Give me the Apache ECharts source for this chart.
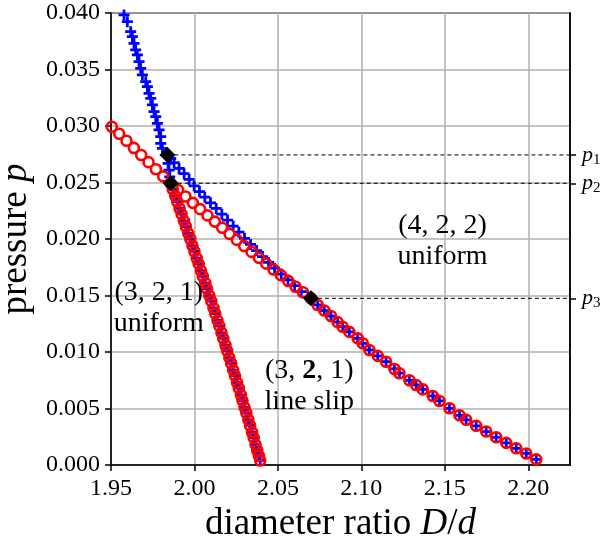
<html>
<head>
<meta charset="utf-8">
<style>
  html, body { margin: 0; padding: 0; background: #fff; }
  #chart { width: 608px; height: 547px; }
</style>
</head>
<body>
<div id="chart"></div>
<script src="https://cdn.jsdelivr.net/npm/echarts@6/dist/echarts.min.js"></script>
<script>
// ---- data ----
var xTicks = [1.95, 2.00, 2.05, 2.10, 2.15, 2.20];
var xMin = 1.95, xMax = 2.225;

// blue '+' branch, upper part down to the first diamond
var blueTop = [
  [1.9578, 0.03983], [1.9598, 0.03923], [1.9618, 0.03835], [1.9628, 0.03791],
  [1.9638, 0.03732], [1.9648, 0.03673], [1.9658, 0.03629], [1.9668, 0.03570],
  [1.9678, 0.03511], [1.9688, 0.03452], [1.9708, 0.03392], [1.9718, 0.03348],
  [1.9728, 0.03289], [1.9738, 0.03245], [1.9748, 0.03186], [1.9758, 0.03127],
  [1.9768, 0.03083], [1.9778, 0.03024], [1.9788, 0.02965], [1.9798, 0.02906],
  [1.9798, 0.02847], [1.9808, 0.02803], [1.9838, 0.02744]
];
// blue '+' from first diamond to third diamond
var blueMiddle = [
  [1.9858, 0.02712], [1.9878, 0.02675], [1.9908, 0.02625], [1.9938, 0.02578],
  [1.9968, 0.02527], [1.9998, 0.02470], [2.0030, 0.02420], [2.0062, 0.02370],
  [2.0096, 0.02320], [2.0130, 0.02270], [2.0164, 0.02220], [2.0198, 0.02168],
  [2.0232, 0.02115], [2.0266, 0.02060], [2.0300, 0.02006], [2.0336, 0.01952],
  [2.0372, 0.01898], [2.0408, 0.01845], [2.0444, 0.01793], [2.0480, 0.01742],
  [2.0520, 0.01690], [2.0560, 0.01638], [2.0600, 0.01587], [2.0640, 0.01535]
];
// blue '+' joining the steep branch below the first diamond
var blueLink = [[1.9842, 0.0267], [1.9848, 0.0261], [1.9852, 0.0255]];

// red 'o' shallow branch, left part down to the second diamond
var redLeft = [
  [1.9505, 0.02994], [1.9549, 0.02931], [1.9593, 0.02869], [1.9637, 0.02806],
  [1.9681, 0.02743], [1.9725, 0.02680], [1.9769, 0.02617], [1.9813, 0.02554],
  [1.9858, 0.02490]
];
// red 'o' from second diamond to third diamond
var redMiddle = [
  [1.9902, 0.02433], [1.9946, 0.02376], [1.9990, 0.02320], [2.0034, 0.02264],
  [2.0078, 0.02209], [2.0122, 0.02154], [2.0166, 0.02099], [2.0210, 0.02045],
  [2.0254, 0.01992], [2.0298, 0.01938], [2.0342, 0.01886], [2.0386, 0.01833],
  [2.0430, 0.01782], [2.0474, 0.01730], [2.0518, 0.01680], [2.0562, 0.01629],
  [2.0606, 0.01578], [2.0650, 0.01529], [2.0698, 0.01475]
];
// both markers, after the third diamond
var lowerBranch = [
  [2.0738, 0.01416], [2.0778, 0.01367], [2.0818, 0.01318], [2.0858, 0.01264],
  [2.0888, 0.01224], [2.0928, 0.01178], [2.0978, 0.01121], [2.1008, 0.01077],
  [2.1048, 0.01018], [2.1098, 0.00966], [2.1148, 0.00914], [2.1198, 0.00850],
  [2.1228, 0.00812], [2.1288, 0.00750], [2.1328, 0.00708], [2.1368, 0.00669],
  [2.1428, 0.00611], [2.1468, 0.00567], [2.1528, 0.00502], [2.1588, 0.00440],
  [2.1628, 0.00400], [2.1688, 0.00347], [2.1748, 0.00296], [2.1808, 0.00245],
  [2.1868, 0.00196], [2.1928, 0.00148], [2.1988, 0.00102], [2.2048, 0.00050]
];
// both markers, steep (3,2,1) line slip branch
var steepBranch = [
  [1.9870, 0.0244], [1.9885, 0.0238], [1.9897, 0.0233], [1.9911, 0.0227],
  [1.9923, 0.0222], [1.9937, 0.0216], [1.9949, 0.0211], [1.9963, 0.0205],
  [1.9975, 0.0200], [1.9988, 0.0194], [2.0000, 0.0189], [2.0014, 0.0183],
  [2.0025, 0.0178], [2.0039, 0.0172], [2.0050, 0.0167], [2.0065, 0.0161],
  [2.0075, 0.0156], [2.0089, 0.0150], [2.0101, 0.0145], [2.0114, 0.0139],
  [2.0125, 0.0134], [2.0138, 0.0128], [2.0149, 0.0123], [2.0162, 0.0117],
  [2.0173, 0.0112], [2.0186, 0.0106], [2.0196, 0.0101], [2.0209, 0.0095],
  [2.0220, 0.0090], [2.0232, 0.0084], [2.0243, 0.0079], [2.0255, 0.0073],
  [2.0266, 0.0068], [2.0278, 0.0062], [2.0288, 0.0057], [2.0300, 0.0051],
  [2.0311, 0.0046], [2.0323, 0.0040], [2.0333, 0.0035], [2.0345, 0.0029],
  [2.0355, 0.0024], [2.0366, 0.0018], [2.0376, 0.0013], [2.0386, 0.0008],
  [2.0394, 0.0004]
];

// transition points p1, p2, p3
var pNames = ['1', '2', '3'];
var pValues = [0.02744, 0.02493, 0.01475];
var pX = [1.9838, 1.9858, 2.0698];

// region annotations
var notes = [
  [2.1486, 0.0198, '(4, 2, 2)\nuniform'],
  [1.9786, 0.0139, '(3, 2, 1)\nuniform'],
  [2.0688, 0.0070, '(3, {b|2}, 1)\nline slip']
];

// ---- chart ----
var serif = 'Liberation Serif';
var plusSymbol = 'path://M4.5,0L7.5,0L7.5,4.5L12,4.5L12,7.5L7.5,7.5L7.5,12L4.5,12L4.5,7.5L0,7.5L0,4.5L4.5,4.5Z';

var blueStyle = {
  type: 'scatter', symbol: plusSymbol, symbolSize: 11,
  itemStyle: { color: '#0000ff', opacity: 1 }, silent: true, z: 2
};
var redStyle = {
  type: 'scatter', symbol: 'circle', symbolSize: 10,
  itemStyle: { color: 'rgba(0,0,0,0)', borderColor: '#ff0000', borderWidth: 2.6, opacity: 1 },
  silent: true, z: 3
};

var series = [
  Object.assign({ data: blueTop.concat(blueMiddle, lowerBranch) }, blueStyle),
  Object.assign({ data: blueLink.concat(steepBranch) }, blueStyle),
  Object.assign({ data: redLeft.concat(redMiddle, lowerBranch) }, redStyle),
  Object.assign({ data: steepBranch }, redStyle)
];

pValues.forEach(function (p, i) {
  series.push({
    type: 'line', data: [[pX[i], p], [xMax, p]], showSymbol: false, silent: true,
    lineStyle: { color: '#000', width: 1, type: [4, 3] }, z: 4
  });
});

series.push({
  type: 'scatter', symbol: 'diamond', symbolSize: 16, silent: true, z: 5,
  itemStyle: { color: '#000', opacity: 1 },
  data: pValues.map(function (p, i) { return [pX[i], p]; })
});

series.push({
  type: 'scatter', symbolSize: 0.1, silent: true, z: 6,
  itemStyle: { color: 'rgba(0,0,0,0)', opacity: 1 },
  data: notes.map(function (n) { return { value: [n[0], n[1]], text: n[2] }; }),
  label: {
    show: true, position: 'inside', align: 'center', verticalAlign: 'middle',
    formatter: function (prm) { return prm.data.text; },
    color: '#000', fontFamily: serif, fontSize: 28, lineHeight: 31,
    rich: { b: { fontFamily: serif, fontSize: 28, fontWeight: 'bold', color: '#000' } }
  }
});

var chart = echarts.init(document.getElementById('chart'));
chart.setOption({
  backgroundColor: '#fff',
  animation: false,
  grid: {
    left: 111, right: 38, top: 13, bottom: 82, containLabel: false, outerBoundsMode: 'none',
    show: true, borderColor: '#000', borderWidth: 1.5
  },
  xAxis: {
    type: 'value', min: xMin, max: xMax, interval: 0.05,
    axisLine: { show: true, onZero: false, lineStyle: { color: '#000', width: 1.5 } },
    axisTick: { show: true, length: 6, customValues: xTicks, lineStyle: { color: '#000', width: 1.5 } },
    axisLabel: {
      customValues: xTicks, margin: 12, color: '#000', fontFamily: serif, fontSize: 24,
      formatter: function (v) { return v.toFixed(2); }
    },
    splitLine: { show: true, lineStyle: { color: '#b0b0b0', width: 1.5 } },
    name: 'diameter ratio {i|D}/{i|d}', nameLocation: 'middle', nameGap: 38,
    nameTextStyle: {
      color: '#000', fontFamily: serif, fontSize: 37,
      rich: { i: { fontFamily: serif, fontSize: 37, fontStyle: 'italic', color: '#000' } }
    }
  },
  yAxis: [{
    type: 'value', min: 0, max: 0.04, interval: 0.005,
    axisLine: { show: true, lineStyle: { color: '#000', width: 1.5 } },
    axisTick: { show: true, length: 6, lineStyle: { color: '#000', width: 1.5 } },
    axisLabel: {
      margin: 11, color: '#000', fontFamily: serif, fontSize: 24,
      formatter: function (v) { return v.toFixed(3); }
    },
    splitLine: { show: true, lineStyle: { color: '#b0b0b0', width: 1.5 } },
    name: 'pressure {i|p}', nameLocation: 'middle', nameGap: 72, nameRotate: 90,
    nameTextStyle: {
      color: '#000', fontFamily: serif, fontSize: 37,
      rich: { i: { fontFamily: serif, fontSize: 37, fontStyle: 'italic', color: '#000' } }
    }
  }, {
    type: 'value', position: 'right', min: 0, max: 0.04,
    axisLine: { show: true, lineStyle: { color: '#000', width: 1.5 } },
    axisTick: { show: true, length: 6, customValues: pValues, lineStyle: { color: '#000', width: 1.5 } },
    axisLabel: {
      customValues: pValues, margin: 12, color: '#000',
      formatter: function (v) {
        var i = pValues.findIndex(function (p) { return Math.abs(p - v) < 1e-7; });
        return '{p|p}{s|' + pNames[i] + '}';
      },
      rich: {
        p: { fontFamily: serif, fontSize: 22, fontStyle: 'italic', color: '#000' },
        s: { fontFamily: serif, fontSize: 15, color: '#000', padding: [10, 0, 0, 0] }
      }
    },
    splitLine: { show: false }
  }],
  series: series
});
</script>
</body>
</html>
